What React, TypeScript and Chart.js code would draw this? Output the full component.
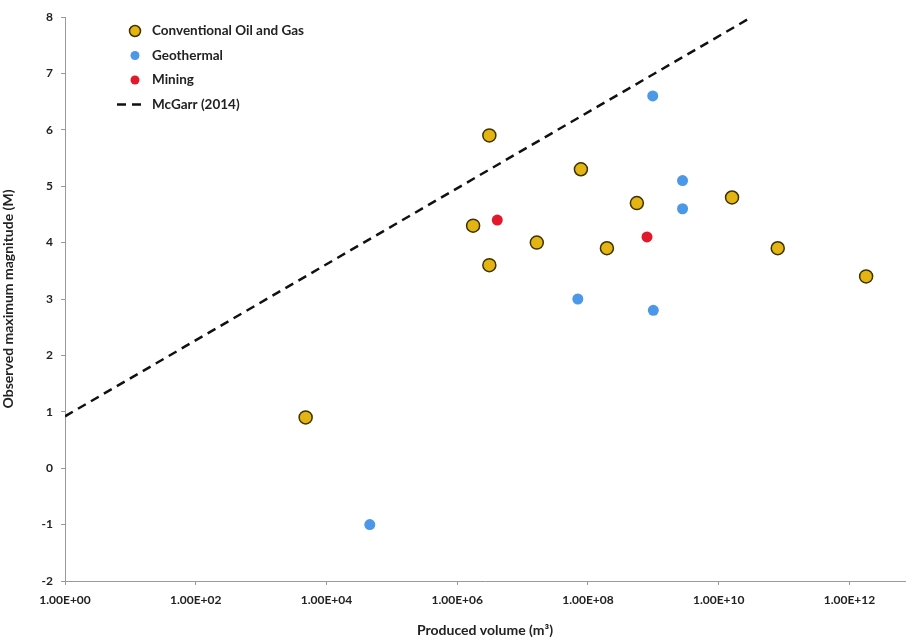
import React, { useEffect, useRef } from "react";
import { Chart, registerables } from "chart.js";

Chart.register(...registerables);

// ---- Data ----
const oilGasVolume = [4.8e3, 3.1e6, 1.75e6, 3.1e6, 1.65e7, 7.8e7, 1.95e8, 5.6e8, 1.6e10, 8.0e10, 1.8e12];
const oilGasMagnitude = [0.9, 5.9, 4.3, 3.6, 4.0, 5.3, 3.9, 4.7, 4.8, 3.9, 3.4];

const geothermalVolume = [4.6e4, 7.0e7, 9.8e8, 1.0e9, 2.8e9, 2.8e9];
const geothermalMagnitude = [-1.0, 3.0, 6.6, 2.8, 5.1, 4.6];

const miningVolume = [4.1e6, 8.0e8];
const miningMagnitude = [4.4, 4.1];

const mcGarrVolume = [1, 3.2e10];
const mcGarrMagnitude = [0.92, 8.0];

const xTickExponents = [0, 2, 4, 6, 8, 10, 12];
const xTickLabels = ["1.00E+00", "1.00E+02", "1.00E+04", "1.00E+06", "1.00E+08", "1.00E+10", "1.00E+12"];
const xMaxExponent = 12.85;

const seriesNames = ["Conventional Oil and Gas", "Geothermal", "Mining", "McGarr (2014)"];

const toPoints = (xs: number[], ys: number[]) => xs.map((x, i) => ({ x, y: ys[i] }));

const FONT = "Lato, 'Open Sans', sans-serif";

const legendPlugin = {
  id: "insideLegend",
  afterDatasetsDraw(chart: any) {
    const { ctx, chartArea } = chart;
    const markerX = chartArea.left + 70;
    const textX = chartArea.left + 87;
    const top = chartArea.top + 14;
    const step = 24.5;
    ctx.save();
    ctx.font = `bold 13.5px ${FONT}`;
    ctx.textBaseline = "middle";
    ctx.textAlign = "left";
    chart.data.datasets.forEach((ds: any, i: number) => {
      const y = top + i * step;
      if (ds.showLine) {
        ctx.beginPath();
        ctx.setLineDash(ds.borderDash || []);
        ctx.lineWidth = ds.borderWidth;
        ctx.strokeStyle = ds.borderColor;
        ctx.moveTo(markerX - 18, y);
        ctx.lineTo(markerX + 12, y);
        ctx.stroke();
        ctx.setLineDash([]);
      } else {
        ctx.beginPath();
        ctx.arc(markerX, y, ds.pointRadius - 1, 0, Math.PI * 2);
        ctx.fillStyle = ds.backgroundColor;
        ctx.fill();
        if (ds.pointBorderWidth > 0) {
          ctx.lineWidth = ds.pointBorderWidth;
          ctx.strokeStyle = ds.pointBorderColor;
          ctx.stroke();
        }
      }
      ctx.fillStyle = "#222";
      ctx.fillText(ds.label, textX, y);
    });
    ctx.restore();
  },
};

export default function App() {
  const canvasRef = useRef<HTMLCanvasElement | null>(null);

  useEffect(() => {
    const canvas = canvasRef.current;
    if (!canvas) return;
    const chart = new Chart(canvas, {
      type: "scatter",
      data: {
        datasets: [
          {
            label: seriesNames[0],
            data: toPoints(oilGasVolume, oilGasMagnitude),
            backgroundColor: "#E4B512",
            borderColor: "#3d3200",
            pointBackgroundColor: "#E4B512",
            pointBorderColor: "#3d3200",
            pointBorderWidth: 1.5,
            pointRadius: 6.5,
          } as any,
          {
            label: seriesNames[1],
            data: toPoints(geothermalVolume, geothermalMagnitude),
            backgroundColor: "#4B97E8",
            borderColor: "#4B97E8",
            pointBackgroundColor: "#4B97E8",
            pointBorderColor: "#4B97E8",
            pointBorderWidth: 0,
            pointRadius: 5.5,
          },
          {
            label: seriesNames[2],
            data: toPoints(miningVolume, miningMagnitude),
            backgroundColor: "#E3182B",
            borderColor: "#E3182B",
            pointBackgroundColor: "#E3182B",
            pointBorderColor: "#E3182B",
            pointBorderWidth: 0,
            pointRadius: 5.5,
          },
          {
            label: seriesNames[3],
            data: toPoints(mcGarrVolume, mcGarrMagnitude),
            showLine: true,
            borderColor: "#111",
            backgroundColor: "#111",
            borderWidth: 2.5,
            borderDash: [9, 6],
            pointRadius: 0,
            pointBorderWidth: 0,
          },
        ],
      },
      options: {
        responsive: false,
        animation: false,
        layout: { padding: { top: 17, right: 0, left: 0, bottom: 0 } },
        plugins: {
          legend: { display: false },
          tooltip: { enabled: false },
        },
        scales: {
          x: {
            type: "logarithmic",
            min: 1,
            max: Math.pow(10, xMaxExponent),
            afterBuildTicks: (scale: any) => {
              scale.ticks = xTickExponents.map((e) => ({ value: Math.pow(10, e) }));
            },
            afterFit: (scale: any) => {
              scale.height = 58;
              scale.paddingLeft = 0;
              scale.paddingRight = 0;
            },
            ticks: {
              autoSkip: false,
              maxRotation: 0,
              padding: 8,
              color: "#222",
              font: { family: FONT, size: 12, weight: "bold" },
              callback: (value: any) => {
                const idx = xTickExponents.indexOf(Math.round(Math.log10(Number(value))));
                return idx >= 0 ? xTickLabels[idx] : "";
              },
            },
            grid: { drawOnChartArea: false, tickLength: 4, color: "#999" },
            border: { color: "#999", width: 1 },
            title: {
              display: true,
              text: "Produced volume (m³)",
              color: "#222",
              font: { family: FONT, size: 14, weight: "bold" },
              padding: { top: 4, bottom: 0 },
            },
          },
          y: {
            type: "linear",
            min: -2,
            max: 8,
            afterFit: (scale: any) => {
              scale.width = 65;
            },
            ticks: {
              stepSize: 1,
              padding: 8,
              color: "#222",
              font: { family: FONT, size: 12, weight: "bold" },
            },
            grid: { drawOnChartArea: false, tickLength: 4, color: "#999" },
            border: { color: "#999", width: 1 },
            title: {
              display: true,
              text: "Observed maximum magnitude (M)",
              color: "#222",
              font: { family: FONT, size: 14, weight: "bold" },
              padding: { top: 0, bottom: 0 },
            },
          },
        },
      },
      plugins: [legendPlugin],
    });
    return () => chart.destroy();
  }, []);

  return (
    <div style={{ position: "absolute", left: 0, top: 0, width: 913, height: 639, background: "#fff" }}>
      <canvas ref={canvasRef} width={913} height={639} style={{ display: "block" }} />
    </div>
  );
}
